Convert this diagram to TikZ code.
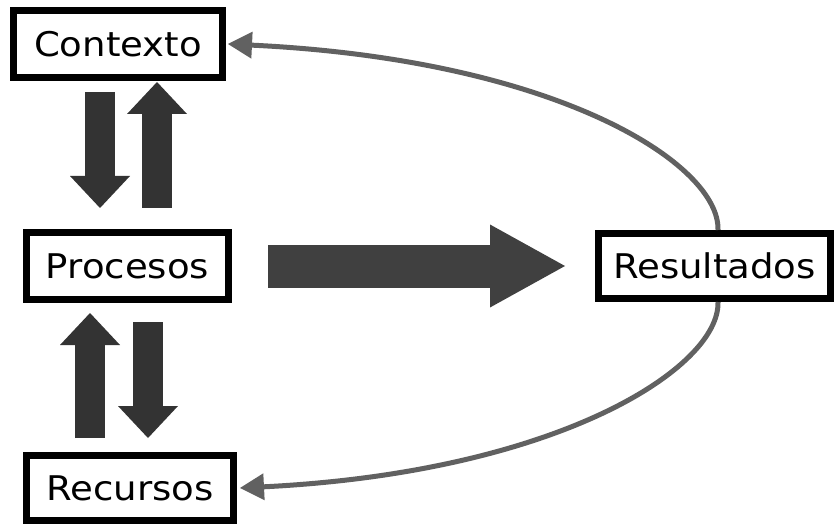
\documentclass[tikz,border=0pt]{standalone}
\usepackage{fontspec}
\setmainfont{DejaVu Sans}[FakeStretch=1.09]
\usepackage{tikz}
\usetikzlibrary{arrows.meta}

\tikzset{
  stagebox/.style={draw, line width=7pt, inner sep=0pt, fill=white,
    font=\fontsize{34}{40}\selectfont},
  blockarrow/.style={draw=black!80, line width=30pt,
    -{Triangle[length=32pt,width=60pt,line width=0pt]}},
  loopback/.style={draw=black!62, line width=5pt,
    -{Triangle[length=24pt,width=27pt,line width=0pt]}}
}

\begin{document}
\begin{tikzpicture}[x=1pt,y=-1pt]
  \useasboundingbox (0,0) rectangle (836,524);
  % Text Node
  \node [stagebox, minimum width=209pt, minimum height=67pt] (ctx) at (118,44) {Contexto};
  % Text Node
  \node [stagebox, minimum width=202pt, minimum height=67pt] (proc) at (127.5,266) {Procesos};
  % Text Node
  \node [stagebox, minimum width=207pt, minimum height=65pt] (rec) at (130,488) {Recursos};
  % Text Node
  \node [stagebox, minimum width=232pt, minimum height=65pt] (res) at (714.5,266) {Resultados};

  % Block arrows Contexto / Procesos
  \draw [blockarrow] ([xshift=-18pt,yshift=-11pt]ctx.south) -- ([xshift=-27.5pt,yshift=21pt]proc.north);
  \draw [blockarrow] ([xshift=29.5pt,yshift=21pt]proc.north) -- ([xshift=39pt,yshift=-1pt]ctx.south);
  % Block arrows Recursos / Procesos
  \draw [blockarrow] ([xshift=-40pt,yshift=14pt]rec.north) -- ([xshift=-37.5pt,yshift=-10pt]proc.south);
  \draw [blockarrow] ([xshift=20.5pt,yshift=-19pt]proc.south) -- ([xshift=18pt,yshift=14pt]rec.north);
  % Big arrow Procesos -> Resultados
  \draw [blockarrow, draw=black!75, line width=43pt,
    -{Triangle[length=75pt,width=83pt,line width=0pt]}]
    ([xshift=36pt]proc.east) -- ([xshift=-30pt]res.west);

  % Curve Lines back to Contexto and Recursos
  \draw [loopback] ([xshift=3.5pt]res.north) .. controls (720,165) and (560,60) .. ([xshift=2pt]ctx.east);
  \draw [loopback] ([xshift=3.5pt]res.south) .. controls (720,367) and (560,472) .. ([xshift=3pt]rec.east);
\end{tikzpicture}
\end{document}
